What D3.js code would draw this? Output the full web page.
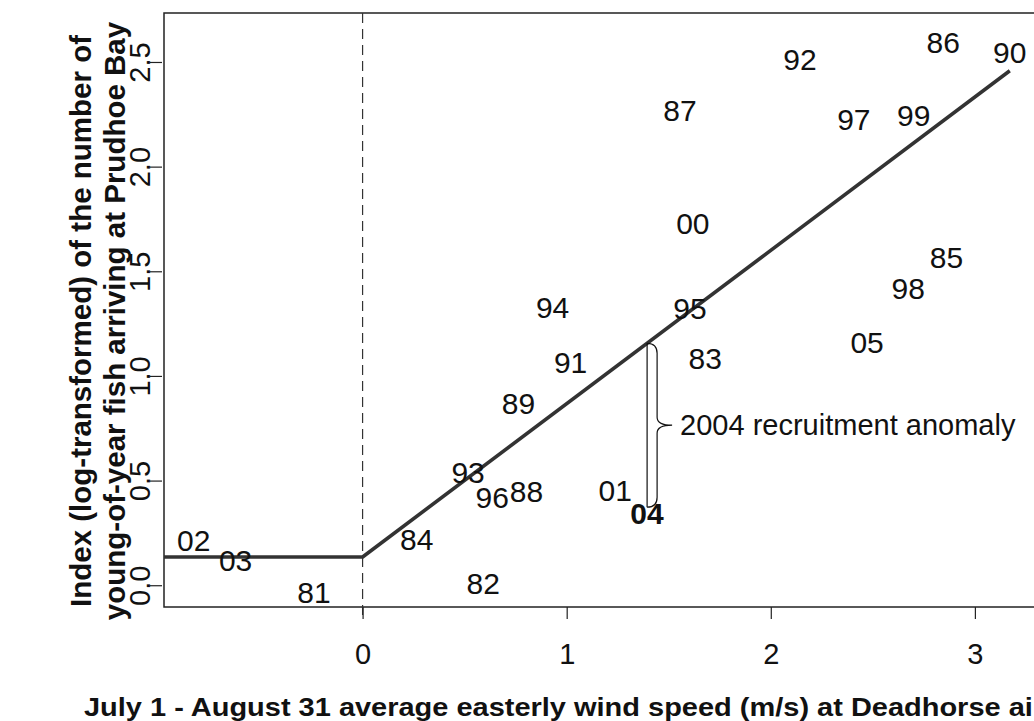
<!DOCTYPE html>
<html>
<head>
<meta charset="utf-8">
<script src="https://cdn.jsdelivr.net/npm/d3@7"></script>
<style>
  html, body { margin: 0; padding: 0; background: #fff; }
  svg { display: block; font-family: "Liberation Sans", Arial, Helvetica, sans-serif; }
</style>
</head>
<body>
<svg id="chart" width="1034" height="721"></svg>
<script>
// ---- data ----
const years = ["81","82","83","84","85","86","87","88","89","90","91","92","93",
               "94","95","96","97","98","99","00","01","02","03","04","05"];
const windSpeed = [-0.238, 0.591, 1.679, 0.265, 2.861, 2.845, 1.555, 0.803, 0.764, 3.171, 1.019, 2.143, 0.517,
                   0.931, 1.604, 0.635, 2.407, 2.673, 2.700, 1.618, 1.238, -0.827, -0.622, 1.393, 2.472];
const recruitIndex = [-0.035, 0.008, 1.081, 0.219, 1.567, 2.595, 2.270, 0.446, 0.866, 2.543, 1.065, 2.512, 0.537,
                      1.328, 1.320, 0.418, 2.227, 1.416, 2.244, 1.726, 0.454, 0.212, 0.120, 0.341, 1.159];
const boldYears = ["04"];

// hockey-stick fit: breakpoints
const fitX = [-0.973, 0, 3.171];
const fitY = [0.135, 0.135, 2.458];

// 2004 anomaly bracket
const anomalyX = 1.394;
const anomalyTop = 1.156;
const anomalyBottom = 0.373;
const anomalyText = "2004 recruitment anomaly";

const xTicks = [0, 1, 2, 3];
const yTicks = [0.0, 0.5, 1.0, 1.5, 2.0, 2.5];
// the reference image is cropped at its right edge after "ai"
const xTitle = "July 1 - August 31 average easterly wind speed (m/s) at Deadhorse ai";
const yTitle = ["Index (log-transformed) of the number of", "young-of-year fish arriving at Prudhoe Bay"];

// ---- layout ----
const svg = d3.select("#chart");
const plotLeft = 164, plotTop = 13, plotBottom = 607;
const x = d3.scaleLinear().domain([-0.973, 3.42]).range([plotLeft, plotLeft + (3.42 + 0.973) * 204.1]);
const y = d3.scaleLinear().domain([-0.104, 2.734]).range([plotBottom, plotTop]);
const plotRight = x.range()[1];

svg.append("rect").attr("width", 1034).attr("height", 721).attr("fill", "#fff");

// plot box
svg.append("rect")
  .attr("x", plotLeft).attr("y", plotTop)
  .attr("width", plotRight - plotLeft).attr("height", plotBottom - plotTop)
  .attr("fill", "none").attr("stroke", "#222").attr("stroke-width", 1.5);

// dashed vertical at x = 0
svg.append("line")
  .attr("x1", x(0)).attr("x2", x(0))
  .attr("y1", plotTop).attr("y2", plotBottom + 12)
  .attr("stroke", "#333").attr("stroke-width", 1.2)
  .attr("stroke-dasharray", "10,6");

// x axis
const xAxis = svg.append("g")
  .attr("transform", `translate(0,${plotBottom})`)
  .call(d3.axisBottom(x).tickValues(xTicks).tickFormat(d3.format("d")).tickSize(12).tickPadding(0));
xAxis.select(".domain").remove();
xAxis.selectAll(".tick line").attr("stroke", "#222").attr("stroke-width", 1.2);
xAxis.selectAll(".tick text")
  .attr("y", 47).attr("dy", null).attr("dominant-baseline", "central")
  .attr("font-size", 29).attr("fill", "#111");
xAxis.attr("font-family", null).attr("font-size", null);

// y axis
const yAxis = svg.append("g")
  .attr("transform", `translate(${plotLeft - 2},0)`)
  .call(d3.axisLeft(y).tickValues(yTicks).tickFormat(d3.format(".1f")).tickSize(12).tickPadding(0));
yAxis.select(".domain").remove();
yAxis.selectAll(".tick line").attr("stroke", "#222").attr("stroke-width", 1.2);
yAxis.selectAll(".tick text")
  .attr("x", null).attr("dy", null)
  .attr("transform", "translate(-22,0) rotate(-90)")
  .attr("text-anchor", "middle").attr("dominant-baseline", "central")
  .attr("font-size", 29).attr("fill", "#111");
yAxis.attr("font-family", null).attr("font-size", null);

// fitted line
const pts = fitX.map((d, i) => [d, fitY[i]]);
svg.append("path")
  .attr("d", d3.line().x(d => x(d[0])).y(d => y(d[1]))(pts))
  .attr("fill", "none").attr("stroke", "#333").attr("stroke-width", 3.6)
  .attr("stroke-linejoin", "round");

// year labels
svg.append("g").selectAll("text")
  .data(years.map((yr, i) => ({yr, xv: windSpeed[i], yv: recruitIndex[i]})))
  .join("text")
  .attr("x", d => x(d.xv)).attr("y", d => y(d.yv))
  .attr("text-anchor", "middle").attr("dominant-baseline", "central")
  .attr("font-size", 30)
  .attr("font-weight", d => boldYears.includes(d.yr) ? "bold" : "normal")
  .attr("fill", "#111")
  .text(d => d.yr);

// anomaly bracket
const bx = x(anomalyX), by0 = y(anomalyTop), by1 = y(anomalyBottom);
const bm = (by0 + by1) / 2;
svg.append("line")
  .attr("x1", bx).attr("x2", bx).attr("y1", by0).attr("y2", by1)
  .attr("stroke", "#111").attr("stroke-width", 1.2);
const bw = 10, tip = 25;
const brace = `M${bx},${by0} Q${bx + bw},${by0} ${bx + bw},${by0 + 10}
  L${bx + bw},${bm - 8} Q${bx + bw},${bm} ${bx + tip},${bm}
  Q${bx + bw},${bm} ${bx + bw},${bm + 8}
  L${bx + bw},${by1 - 10} Q${bx + bw},${by1} ${bx},${by1}`;
svg.append("path").attr("d", brace)
  .attr("fill", "none").attr("stroke", "#111").attr("stroke-width", 1.2);
svg.append("text")
  .attr("x", bx + tip + 8).attr("y", bm)
  .attr("dominant-baseline", "central")
  .attr("font-size", 29).attr("fill", "#111")
  .text(anomalyText);

// axis titles
svg.append("text")
  .attr("transform", "translate(84,716) scale(1.115,1)")
  .attr("font-size", 26).attr("font-weight", "bold").attr("fill", "#111")
  .text(xTitle);

const yt = svg.append("g").attr("transform", "translate(0,321) rotate(-90)");
yt.selectAll("text").data(yTitle).join("text")
  .attr("x", 0).attr("y", (d, i) => 80 + i * 34)
  .attr("text-anchor", "middle").attr("dominant-baseline", "central")
  .attr("font-size", 29.5).attr("font-weight", "bold").attr("fill", "#111")
  .text(d => d);
</script>
</body>
</html>
